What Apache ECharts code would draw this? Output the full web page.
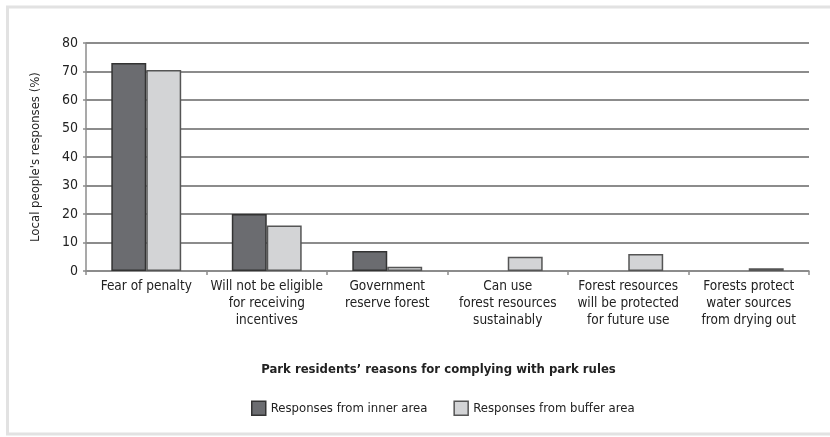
<!DOCTYPE html>
<html>
<head>
<meta charset="utf-8">
<script src="https://cdn.jsdelivr.net/npm/echarts@6/dist/echarts.min.js"></script>
<style>
html,body{margin:0;padding:0;background:#fff;}
#c{width:830px;height:437px;}
</style>
</head>
<body>
<div id="c"></div>
<script>
var categories = [
  'Fear of penalty',
  'Will not be eligible\nfor receiving\nincentives',
  'Government\nreserve forest',
  'Can use\nforest resources\nsustainably',
  'Forest resources\nwill be protected\nfor future use',
  'Forests protect\nwater sources\nfrom drying out'
];
var innerArea = [73, 20, 7, 0, 0, 0];
var bufferArea = [70.5, 16, 1.5, 5, 6, 1];
var yTicks = [0, 10, 20, 30, 40, 50, 60, 70, 80];
var seriesNames = ['Responses from inner area', 'Responses from buffer area'];
var xTitle = 'Park residents\u2019 reasons for complying with park rules';
var yTitle = "Local people's responses (%)";

var FONT = '"Liberation Sans Narrow", "DejaVu Sans Condensed", "Open Sans", sans-serif';

function toData(arr) {
  return arr.map(function (v) {
    return v === 0 ? {value: v, itemStyle: {borderWidth: 0, opacity: 0}} : v;
  });
}

var chart = echarts.init(document.getElementById('c'));
chart.setOption({
  animation: false,
  textStyle: {fontFamily: FONT},
  graphic: [{
    type: 'rect',
    shape: {x: 7.5, y: 7, width: 830, height: 427},
    style: {fill: 'none', stroke: '#e2e2e2', lineWidth: 3},
    silent: true
  }],
  grid: {left: 86, right: 21, top: 43, bottom: 166, containLabel: false},
  legend: {
    bottom: 16,
    left: 246,
    itemWidth: 14,
    itemHeight: 14,
    itemGap: 26,
    textStyle: {fontFamily: FONT, fontSize: 13, color: '#222'},
    data: [
      {name: seriesNames[0], icon: 'rect', itemStyle: {color: '#6b6c70', borderColor: '#333', borderWidth: 1.5}},
      {name: seriesNames[1], icon: 'rect', itemStyle: {color: '#d3d4d6', borderColor: '#555', borderWidth: 1.5}}
    ]
  },
  xAxis: {
    type: 'category',
    data: categories,
    name: xTitle,
    nameLocation: 'middle',
    nameGap: 92,
    nameTextStyle: {fontFamily: FONT, fontSize: 13, fontWeight: 'bold', color: '#222', padding: [0, 18, 0, 0]},
    axisLine: {lineStyle: {color: '#8c8c8c', width: 1.5}},
    axisTick: {show: true, length: 4, lineStyle: {color: '#8c8c8c', width: 1.5}},
    axisLabel: {fontFamily: FONT, fontSize: 13.5, color: '#222', lineHeight: 17, margin: 7, interval: 0}
  },
  yAxis: {
    type: 'value',
    min: 0, max: 80, interval: 10,
    name: yTitle,
    nameLocation: 'middle',
    nameGap: 44,
    nameRotate: 90,
    nameTextStyle: {fontFamily: FONT, fontSize: 13, color: '#222'},
    axisLine: {show: true, lineStyle: {color: '#8c8c8c', width: 1.5}},
    axisTick: {show: true, length: 3, lineStyle: {color: '#8c8c8c', width: 1.5}},
    axisLabel: {fontFamily: FONT, fontSize: 14, color: '#222', margin: 8,
      formatter: function (v) { return yTicks.indexOf(v) >= 0 ? String(v) : ''; }},
    splitLine: {lineStyle: {color: '#8c8c8c', width: 2}}
  },
  series: [
    {
      name: seriesNames[0], type: 'bar', data: toData(innerArea),
      barGap: '0%', barCategoryGap: '42%',
      itemStyle: {color: '#6b6c70', borderColor: '#333', borderWidth: 1.5}
    },
    {
      name: seriesNames[1], type: 'bar', data: toData(bufferArea),
      itemStyle: {color: '#d3d4d6', borderColor: '#555', borderWidth: 1.5}
    }
  ]
});
</script>
</body>
</html>
